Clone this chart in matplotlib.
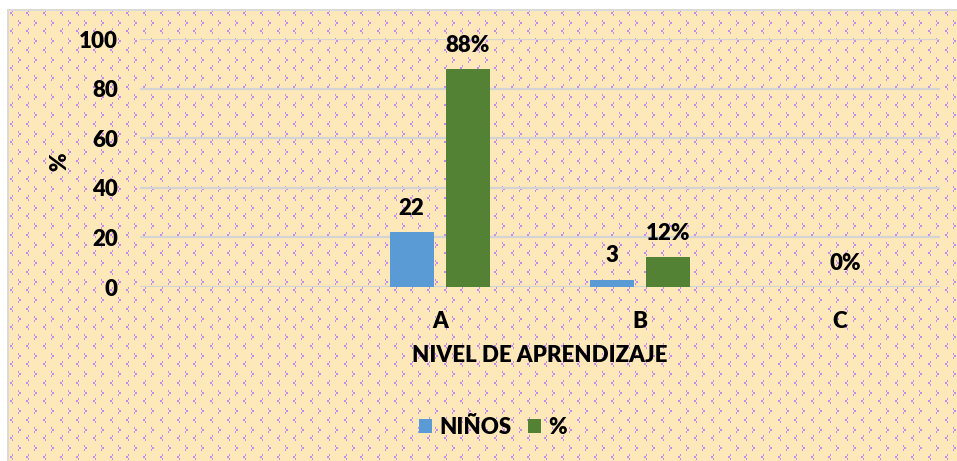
import numpy as np
import matplotlib
matplotlib.use("Agg")
import matplotlib.pyplot as plt
from matplotlib.colors import to_rgb

# datos
categorias = ["", "A", "B", "C"]
ninos = [np.nan, 22, 3, np.nan]
porcentaje = [np.nan, 88, 12, 0]
etiq_ninos = ["", "22", "3", ""]
etiq_pct = ["", "88%", "12%", "0%"]
yticks = [0, 20, 40, 60, 80, 100]

azul = "#5B9BD5"
verde = "#548235"
fs = 16
fw = 'heavy'

plt.rcParams['font.family'] = ['Lato', 'DejaVu Sans']
plt.rcParams['font.weight'] = fw

W, H = 957, 461
fig = plt.figure(figsize=(W / 100, H / 100), dpi=100)

# fondo con patron (amarillo con puntitos morados)
bg = np.array(to_rgb("#FDE8BA"))
pur = np.array(to_rgb("#C48AF2"))
img = np.ones((H, W, 3)) * bg
menor = [(0, 2), (1, 2), (2, 0), (2, 1), (3, 0), (3, 1), (4, 2), (5, 2)]
mayor = [(0, 0), (1, 0), (2, 1), (2, 2), (3, 1), (3, 2), (4, 0), (5, 0)]
for y0 in np.arange(10, H, 18.5):
    for x0 in np.arange(10, W, 16.7):
        for dy, dx in menor:
            yy, xx = int(y0) + dy, int(x0) + dx
            if yy < H and xx < W:
                img[yy, xx] = pur
for y0 in np.arange(20, H, 18.5):
    for x0 in np.arange(18, W, 16.7):
        for dy, dx in mayor:
            yy, xx = int(y0) + dy, int(x0) + dx
            if yy < H and xx < W:
                img[yy, xx] = pur
img[:9, :] = 1.0
img[:, :7] = 1.0
img[9:11, 7:] = to_rgb("#D9D9D9")
img[9:, 7:9] = to_rgb("#D9D9D9")
fig.figimage(img, 0, 0, origin='upper', zorder=0)

ax = fig.add_axes([140 / W, 174 / H, 800 / W, 248 / H])
ax.set_zorder(2)
ax.set_facecolor("none")

x = np.arange(len(categorias))
b1 = ax.bar(x - 0.1425, ninos, width=0.22, color=azul, label="NIÑOS", zorder=3)
b2 = ax.bar(x + 0.14, porcentaje, width=0.22, color=verde, label="%", zorder=3)

for xi, h, t in zip(x - 0.1425, ninos, etiq_ninos):
    if t:
        ax.annotate(t, (xi, h), xytext=(0, 17.5), textcoords='offset points',
                    ha='center', va='center', fontsize=fs, fontweight=fw)
for xi, h, t in zip(x + 0.14, porcentaje, etiq_pct):
    if t:
        dx = -16 if h == 0 else 0
        ax.annotate(t, (xi, h), xytext=(dx, 17), textcoords='offset points',
                    ha='center', va='center', fontsize=fs, fontweight=fw)

ax.set_xlim(-0.5, 3.5)
ax.set_ylim(0, 100)
ax.set_yticks(yticks)
ax.set_xticks(x)
ax.set_xticklabels(categorias)
ax.tick_params(axis='both', length=0, labelsize=fs)
ax.tick_params(axis='y', pad=16)
ax.tick_params(axis='x', pad=17)
for lab in ax.get_xticklabels() + ax.get_yticklabels():
    lab.set_fontweight(fw)
ax.grid(axis='y', color="#D4D4D4", lw=1.6, zorder=1)
ax.set_axisbelow(True)
for s in ax.spines.values():
    s.set_visible(False)

fig.text(60 / W, 1 - 162 / H, "%", rotation=90, ha='center', va='center',
         fontsize=fs, fontweight=fw)
fig.text(540 / W, 1 - 355 / H, "NIVEL DE APRENDIZAJE", ha='center', va='center',
         fontsize=fs, fontweight=fw)

leg = fig.legend(handles=[b1, b2], loc='center', bbox_to_anchor=(493 / W, 1 - 427 / H),
                 ncol=2, frameon=False, fontsize=fs, handlelength=0.6, handleheight=0.6,
                 handletextpad=0.35, columnspacing=0.7, borderpad=0.2)
leg.set_zorder(3)
for t in leg.get_texts():
    t.set_fontweight(fw)

fig.savefig("out.png", dpi=100)
